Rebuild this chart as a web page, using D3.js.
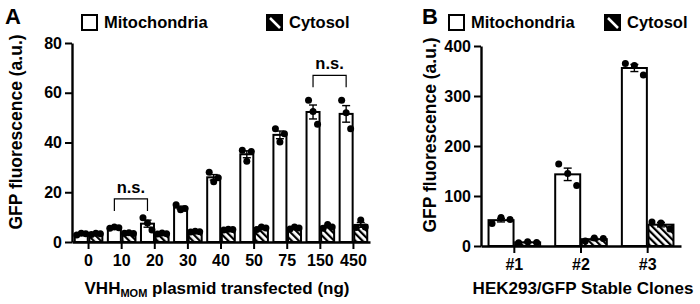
<!DOCTYPE html>
<html>
<head>
<meta charset="utf-8">
<script src="https://cdn.jsdelivr.net/npm/d3@7"></script>
<style>
  body { margin: 0; background: #fff; }
  text { font-family: "Liberation Sans", Arial, sans-serif; font-weight: bold; fill: #000; }
</style>
</head>
<body>
<div id="chart"></div>
<script>
// panel A
var doseLabels = ["0", "10", "20", "30", "40", "50", "75", "150", "450"];
var mitoA = [[2.8, 3.5, 3.3], [5.5, 6.0, 5.7], [9.7, 7.6, 4.8], [15.0, 13.0, 13.5], [28.0, 24.2, 25.8],
             [36.9, 32.5, 36.4], [45.5, 40.2, 43.5], [57.0, 52.5, 47.3], [57.0, 52.0, 45.5]];
var cytoA = [[3.0, 3.5, 3.3], [3.5, 3.7, 3.4], [3.2, 3.6, 3.3], [4.0, 4.3, 4.1], [4.8, 5.1, 5.0],
             [5.0, 6.0, 5.6], [5.2, 6.0, 5.6], [5.5, 7.0, 6.0], [5.8, 8.8, 6.0]];
var ticksA = [0, 20, 40, 60, 80];
var nsA = [["10", "20"], ["150", "450"]];
var nsLevelA = [17.3, 67];

// panel B
var cloneLabels = ["#1", "#2", "#3"];
var mitoB = [[45, 57, 53], [164, 145, 121], [365, 361, 342]];
var cytoB = [[6.5, 8.5, 7.0], [10, 16, 15], [48, 46, 34]];
var ticksB = [0, 100, 200, 300, 400];

var W = 700, H = 304;
var svg = d3.select("#chart").append("svg").attr("width", W).attr("height", H);

var defs = svg.append("defs");
var pat = defs.append("pattern")
    .attr("id", "hatch")
    .attr("patternUnits", "userSpaceOnUse")
    .attr("width", 5).attr("height", 5)
    .attr("patternTransform", "rotate(-45)");
pat.append("rect").attr("width", 5).attr("height", 5).attr("fill", "#fff");
pat.append("rect").attr("width", 2.2).attr("height", 5).attr("fill", "#000");

function mean(a) { return d3.mean(a); }
function sem(a) { return d3.deviation(a) / Math.sqrt(a.length); }

function panel(opt) {
    var g = svg.append("g");
    var x = d3.scaleBand().domain(opt.cats).range([opt.x0, opt.x1]);
    var y = d3.scaleLinear().domain([0, opt.ymax]).range([opt.y0, opt.ytop]);
    var bw = opt.bw;

    // axes
    var ya = g.append("g")
        .attr("transform", "translate(" + opt.x0 + ",0)")
        .call(d3.axisLeft(y).tickValues(opt.ticks).tickSize(7).tickPadding(3).tickSizeOuter(0));
    var xa = g.append("g")
        .attr("transform", "translate(0," + opt.y0 + ")")
        .call(d3.axisBottom(x).tickSize(7).tickPadding(6).tickSizeOuter(0));
    [ya, xa].forEach(function(a) {
        a.select(".domain").attr("stroke-width", 2.4);
        a.selectAll(".tick line").attr("stroke-width", 2);
        a.selectAll("text").attr("font-size", 16).attr("font-weight", "bold")
            .attr("font-family", "Liberation Sans, Arial, sans-serif");
    });

    // bars
    var series = [
        { vals: opt.mito, off: -bw - 0.8, fill: "#fff" },
        { vals: opt.cyto, off: 0.8, fill: "url(#hatch)" }
    ];
    series.forEach(function(s) {
        var bg = g.append("g");
        opt.cats.forEach(function(c, i) {
            var cx = x(c) + x.bandwidth() / 2 + s.off;
            var m = mean(s.vals[i]);
            bg.append("rect")
                .attr("x", cx).attr("y", y(m))
                .attr("width", bw).attr("height", opt.y0 - y(m))
                .attr("fill", s.fill).attr("stroke", "#000").attr("stroke-width", 2);
            var mid = cx + bw / 2, e = sem(s.vals[i]);
            var eb = bg.append("g").attr("stroke", "#000").attr("stroke-width", 1.4);
            eb.append("line").attr("x1", mid).attr("x2", mid).attr("y1", y(m - e)).attr("y2", y(m + e));
            eb.append("line").attr("x1", mid - 4).attr("x2", mid + 4).attr("y1", y(m + e)).attr("y2", y(m + e));
            eb.append("line").attr("x1", mid - 4).attr("x2", mid + 4).attr("y1", y(m - e)).attr("y2", y(m - e));
            s.vals[i].forEach(function(v, k) {
                bg.append("circle")
                    .attr("cx", mid + (k - 1) * opt.jit).attr("cy", y(v))
                    .attr("r", 3.5).attr("fill", "#000");
            });
        });
    });

    // n.s. brackets
    (opt.ns || []).forEach(function(p, j) {
        var xa1 = x(p[0]) + x.bandwidth() / 2 - bw / 2 - 0.8;
        var xa2 = x(p[1]) + x.bandwidth() / 2 - bw / 2 - 0.8;
        var yb = y(opt.nsLevel[j]);
        g.append("path")
            .attr("d", "M" + xa1 + "," + (yb + 12) + "V" + yb + "H" + xa2 + "V" + (yb + 12))
            .attr("fill", "none").attr("stroke", "#000").attr("stroke-width", 1.2);
        g.append("text")
            .attr("x", (xa1 + xa2) / 2).attr("y", yb - 6)
            .attr("text-anchor", "middle").attr("font-size", 16.5).attr("font-weight", "normal")
            .text("n.s.");
    });

    // y label
    g.append("text")
        .attr("transform", "translate(" + opt.ylabX + "," + opt.ylabY + ") rotate(-90)")
        .attr("text-anchor", "middle").attr("font-size", 17.5)
        .text("GFP fluorescence (a.u.)");

    // x label
    var xl = g.append("text")
        .attr("x", opt.xlabX).attr("y", 294)
        .attr("text-anchor", "middle").attr("font-size", 17);
    opt.xlab.forEach(function(part) {
        var t = xl.append("tspan").text(part.t);
        if (part.sub) t.attr("font-size", 11).attr("dy", 3);
        else if (part.after) t.attr("dy", -3);
    });

    // panel letter
    g.append("text").attr("x", opt.letterX).attr("y", 24).attr("font-size", 22).text(opt.letter);

    // legend
    var lg = g.append("g");
    lg.append("rect").attr("x", opt.leg1).attr("y", 15).attr("width", 15).attr("height", 15)
        .attr("fill", "#fff").attr("stroke", "#000").attr("stroke-width", 2);
    lg.append("text").attr("x", opt.leg1 + 22).attr("y", 28).attr("font-size", 16.5).text("Mitochondria");
    lg.append("rect").attr("x", opt.leg2).attr("y", 15).attr("width", 15).attr("height", 15)
        .attr("fill", "#000").attr("stroke", "#000").attr("stroke-width", 2);
    lg.append("line").attr("x1", opt.leg2 + 3).attr("y1", 18).attr("x2", opt.leg2 + 13).attr("y2", 28)
        .attr("stroke", "#fff").attr("stroke-width", 2.5);
    lg.append("text").attr("x", opt.leg2 + 22).attr("y", 28).attr("font-size", 16.5).text("Cytosol");
}

panel({
    cats: doseLabels, mito: mitoA, cyto: cytoA, ticks: ticksA, ymax: 80,
    x0: 72, x1: 370, y0: 242, ytop: 43, bw: 13, jit: 4.5,
    ns: nsA, nsLevel: nsLevelA,
    ylabX: 22, ylabY: 132, xlabX: 217,
    xlab: [{ t: "VHH" }, { t: "MOM", sub: true }, { t: " plasmid transfected (ng)", after: true }],
    letter: "A", letterX: 5, leg1: 82, leg2: 267
});

panel({
    cats: cloneLabels, mito: mitoB, cyto: cytoB, ticks: ticksB, ymax: 400,
    x0: 481, x1: 681, y0: 246, ytop: 46, bw: 25, jit: 9,
    ylabX: 436, ylabY: 135, xlabX: 583,
    xlab: [{ t: "HEK293/GFP Stable Clones" }],
    letter: "B", letterX: 422, leg1: 449, leg2: 605
});
</script>
</body>
</html>
